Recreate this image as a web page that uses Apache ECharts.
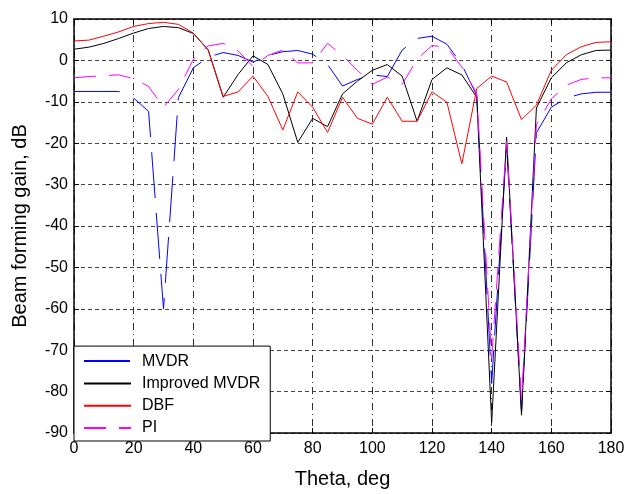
<!DOCTYPE html>
<html>
<head>
<meta charset="utf-8">
<script src="https://cdn.jsdelivr.net/npm/echarts@6/dist/echarts.min.js"></script>
<style>
  html, body { margin: 0; padding: 0; background: #fff; }
  #main { width: 628px; height: 494px; }
</style>
</head>
<body>
<div id="main"></div>
<script>
// 角度，每5度一个点
var aTheta = [0, 5, 10, 15, 20, 25, 30, 35, 40, 45, 50, 55, 60, 65, 70, 75, 80, 85, 90,
    95, 100, 105, 110, 115, 120, 125, 130, 135, 140, 145, 150, 155, 160, 165, 170, 175, 180];

var aMVDR = [-7.5, -7.5, -7.5, -7.5, -9.1, -12.3, -60, -9, -1.8, 0.8, 1.9, 1.2, -0.4, 1.2, 2.1, 2.4, 1.5, -1,
    -6.2, -4.6, -3.5, -3.9, 2.5, 5.3, 5.85, 3.9, -1, -8.5, -78, -20.5, -85, -17.5, -11.3, -9.1, -8.1, -7.7, -7.7];

var aImproved = [2.7, 3.2, 4.1, 5.3, 6.6, 7.7, 8.2, 7.9, 6.5, 2.5, -8.9, -3.4, 1.1, -1, -8.1, -19.8, -14, -16,
    -8.1, -5, -2.4, -1, -3.8, -14.7, -4.6, -1.8, -3.5, -8.9, -87.5, -18.5, -85.7, -11.5, -4.2, -0.6, 1.35, 2.4, 2.5];

var aDBF = [4.7, 4.9, 5.85, 6.9, 8.2, 8.9, 9.2, 8.7, 6.6, 2.5, -8.7, -7.6, -3.8, -8.7, -16.8, -7.6, -11.3, -17.4,
    -8.9, -14, -15.4, -8.9, -14.7, -14.7, -7.6, -10.1, -25, -6.8, -3.8, -5.2, -14.3, -10.8, -2.4, 1.35, 3.3, 4.35, 4.5];

var aPI = [-4.2, -3.9, -3.7, -3.5, -4.4, -6.3, -11.3, -7, 0.3, 3.5, 4.1, 2.3, -1.5, 1.2, 2.5, -0.6, -0.6, 4.1,
    1.2, -2.4, -5.8, -4, -5.8, 0.3, 3.6, 3.2, -1.6, -8, -72, -19.5, -82, -15.5, -9.3, -6, -4.6, -4.2, -4.2];

var aNames = ['MVDR', 'Improved MVDR', 'DBF', 'PI'];

function Pairs(aY) {
    var aData = [];
    for (var i = 0; i < aTheta.length; i++) {
        aData.push([aTheta[i], aY[i]]);
    }
    return aData
}

var sFont = 'Liberation Sans, Arial, Helvetica, sans-serif';

function MakeSeries(sName, aY, sColor, dash) {
    return {
        name: sName,
        type: 'line',
        data: Pairs(aY),
        symbol: 'none',
        animation: false,
        lineStyle: {color: sColor, width: 1, type: dash},
        itemStyle: {color: sColor}
    }
}

var jOption = {
    animation: false,
    grid: {left: 74, right: 17, top: 19, bottom: 53, show: false},
    legend: {
        data: aNames,
        orient: 'vertical',
        left: 74,
        bottom: 53,
        backgroundColor: '#fff',
        borderColor: '#000',
        borderWidth: 1,
        borderRadius: 0,
        padding: [7, 10, 5, 9],
        itemWidth: 47,
        itemHeight: 14,
        itemGap: 6.3,
        // 图例里只画线，不画圆点
        itemStyle: {color: 'rgba(0,0,0,0)', borderWidth: 0},
        textStyle: {fontSize: 16, fontFamily: sFont, color: '#000', lineHeight: 16, padding: [0, 0, 0, 6]}
    },
    xAxis: [{
        type: 'value', min: 0, max: 180, interval: 20,
        name: 'Theta, deg', nameLocation: 'middle', nameGap: 36,
        nameTextStyle: {fontSize: 20, fontFamily: sFont, color: '#000'},
        axisLine: {show: true, onZero: false, lineStyle: {color: '#000', width: 1.5}},
        axisTick: {show: true, inside: true, length: 5, lineStyle: {color: '#000'}},
        axisLabel: {fontSize: 16, fontFamily: sFont, color: '#000', margin: 8},
        splitLine: {show: true, lineStyle: {color: '#333', width: 1, type: [7, 4, 1, 4]}}
    }, {
        type: 'value', min: 0, max: 180, interval: 20, position: 'top',
        axisLine: {show: true, onZero: false, lineStyle: {color: '#000', width: 1.5}},
        axisTick: {show: true, inside: true, length: 5, lineStyle: {color: '#000'}},
        axisLabel: {show: false},
        splitLine: {show: false}
    }],
    yAxis: [{
        type: 'value', min: -90, max: 10, interval: 10,
        name: 'Beam forming gain, dB', nameLocation: 'middle', nameGap: 44,
        nameTextStyle: {fontSize: 20, fontFamily: sFont, color: '#000'},
        axisLine: {show: true, onZero: false, lineStyle: {color: '#000', width: 1.5}},
        axisTick: {show: true, inside: true, length: 5, lineStyle: {color: '#000'}},
        axisLabel: {fontSize: 16, fontFamily: sFont, color: '#000', margin: 6},
        splitLine: {show: true, lineStyle: {color: '#444', width: 1, type: [4, 3]}}
    }, {
        type: 'value', min: -90, max: 10, interval: 10, position: 'right',
        axisLine: {show: true, onZero: false, lineStyle: {color: '#000', width: 1.5}},
        axisTick: {show: true, inside: true, length: 5, lineStyle: {color: '#000'}},
        axisLabel: {show: false},
        splitLine: {show: false}
    }],
    series: [
        MakeSeries(aNames[0], aMVDR, '#0000ff', [46, 15]),
        MakeSeries(aNames[1], aImproved, '#000000', 'solid'),
        MakeSeries(aNames[2], aDBF, '#ff0000', 'solid'),
        MakeSeries(aNames[3], aPI, '#ff00ff', [22, 13])
    ]
};

var myChart = echarts.init(document.getElementById('main'), null, {renderer: 'canvas'});
myChart.setOption(jOption);
</script>
</body>
</html>
